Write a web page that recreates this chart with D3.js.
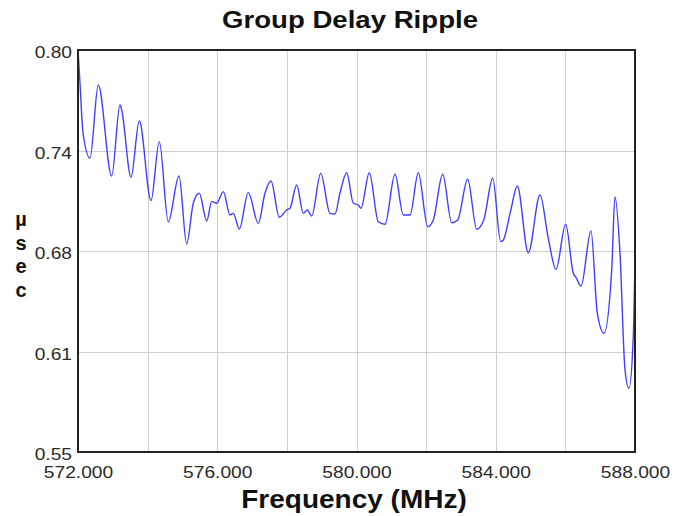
<!DOCTYPE html>
<html>
<head>
<meta charset="utf-8">
<script src="https://cdn.jsdelivr.net/npm/d3@7/dist/d3.min.js"></script>
<style>
  body { margin: 0; background: #fff; }
  text { font-family: "Liberation Sans", Arial, Helvetica, sans-serif; }
</style>
</head>
<body>
<svg width="682" height="516"></svg>
<script>
'use strict';

// frequency (MHz) and group delay (usec)
const freq = [
  572.000, 572.057, 572.144, 572.345, 572.583, 572.968, 573.206, 573.255, 573.522, 573.761,
  574.097, 574.335, 574.594, 574.901, 575.122, 575.312, 575.484, 575.697, 575.841, 575.984,
  576.174, 576.366, 576.461, 576.633, 576.892, 577.179, 577.372, 577.544, 577.782, 577.995,
  578.090, 578.282, 578.472, 578.587, 578.713, 578.972, 579.239, 579.382, 579.526, 579.718,
  579.908, 580.052, 580.129, 580.368, 580.626, 580.818, 581.106, 581.344, 581.537, 581.775,
  582.045, 582.206, 582.476, 582.734, 582.907, 583.194, 583.453, 583.662, 583.912, 584.142,
  584.217, 584.429, 584.619, 584.935, 585.271, 585.509, 585.731, 586.009, 586.228, 586.305,
  586.449, 586.736, 586.917, 587.109, 587.331, 587.425, 587.569, 587.713, 587.828, 587.951,
  588.000
];
const delay = [
  0.8000, 0.7795, 0.7484, 0.7328, 0.7782, 0.7216, 0.7658, 0.7627, 0.7210, 0.7558,
  0.7063, 0.7430, 0.6932, 0.7216, 0.6794, 0.7049, 0.7109, 0.6937, 0.7057, 0.7047,
  0.7119, 0.6974, 0.6984, 0.6887, 0.7113, 0.6922, 0.7111, 0.7185, 0.6960, 0.7005,
  0.7016, 0.7160, 0.6984, 0.7005, 0.6968, 0.7233, 0.6984, 0.6980, 0.7111, 0.7237,
  0.7047, 0.7036, 0.7016, 0.7237, 0.6932, 0.6916, 0.7227, 0.6974, 0.6974, 0.7237,
  0.6901, 0.6943, 0.7227, 0.6926, 0.6943, 0.7196, 0.6885, 0.6947, 0.7202, 0.6808,
  0.6818, 0.7001, 0.7154, 0.6739, 0.7098, 0.6829, 0.6636, 0.6916, 0.6611, 0.6586,
  0.6532, 0.6874, 0.6363, 0.6238, 0.6632, 0.7088, 0.6736, 0.6010, 0.5896, 0.6217,
  0.6706
];

const xGrid = [572, 574, 576, 578, 580, 582, 584, 586, 588];
const xTicks = [572, 576, 580, 584, 588];
const yTicks = [0.55, 0.6125, 0.675, 0.7375, 0.80];
const yTickLabels = ["0.55", "0.61", "0.68", "0.74", "0.80"];
const yLabel = ["\u00b5", "s", "e", "c"];

const svg = d3.select("svg");
const width = +svg.attr("width");
const height = +svg.attr("height");
const margin = {top: 50, right: 47, bottom: 64, left: 78};
const stretchX = 1.2;

const x = d3.scaleLinear()
    .domain([572, 588])
    .range([margin.left, width - margin.right]);

const y = d3.scaleLinear()
    .domain([0.55, 0.80])
    .range([height - margin.bottom, margin.top]);

// grid
svg.append("g")
    .attr("stroke", "#cfcfcf")
    .attr("stroke-width", 1)
  .selectAll("line")
  .data(xGrid)
  .join("line")
    .attr("x1", d => Math.round(x(d)) + 0.5)
    .attr("x2", d => Math.round(x(d)) + 0.5)
    .attr("y1", y(0.80))
    .attr("y2", y(0.55));

svg.append("g")
    .attr("stroke", "#cfcfcf")
    .attr("stroke-width", 1)
  .selectAll("line")
  .data(yTicks)
  .join("line")
    .attr("x1", x(572))
    .attr("x2", x(588))
    .attr("y1", d => Math.round(y(d)) + 0.5)
    .attr("y2", d => Math.round(y(d)) + 0.5);

// trace
const line = d3.line()
    .x((d, i) => x(freq[i]))
    .y(d => y(d))
    .curve(d3.curveMonotoneX);

svg.append("path")
    .datum(delay)
    .attr("fill", "none")
    .attr("stroke", "#3f3fff")
    .attr("stroke-width", 1.4)
    .attr("stroke-linejoin", "round")
    .attr("d", line);

// frame
svg.append("rect")
    .attr("x", x(572))
    .attr("y", y(0.80))
    .attr("width", x(588) - x(572))
    .attr("height", y(0.55) - y(0.80))
    .attr("fill", "none")
    .attr("stroke", "#222")
    .attr("stroke-width", 2);

// tick labels through the axis generators
const xAxis = svg.append("g")
    .attr("transform", `translate(0,${y(0.55)})`)
    .call(d3.axisBottom(x).tickValues(xTicks).tickSize(0).tickPadding(0)
      .tickFormat(d3.format(".3f")));
xAxis.select(".domain").remove();
xAxis.selectAll("text")
    .attr("y", null).attr("dy", null)
    .attr("transform", `translate(0,26) scale(${stretchX},1)`)
    .attr("font-size", 16)
    .attr("font-family", null)
    .attr("fill", "#2a2a2a");

const yAxis = svg.append("g")
    .attr("transform", `translate(${x(572)},0)`)
    .call(d3.axisLeft(y).tickValues(yTicks).tickSize(0).tickPadding(0)
      .tickFormat((d, i) => yTickLabels[i]));
yAxis.select(".domain").remove();
yAxis.selectAll("text")
    .attr("x", null).attr("dy", null)
    .attr("transform", `translate(-6,7.5) scale(${stretchX},1)`)
    .attr("font-size", 16)
    .attr("font-family", null)
    .attr("fill", "#2a2a2a");

// title and axis titles
svg.append("text")
    .attr("transform", `translate(350,28) scale(${stretchX},1)`)
    .attr("text-anchor", "middle")
    .attr("font-size", 23)
    .attr("font-weight", "bold")
    .attr("fill", "#111")
    .text("Group Delay Ripple");

svg.append("text")
    .attr("transform", `translate(354,508) scale(1.12,1)`)
    .attr("text-anchor", "middle")
    .attr("font-size", 25)
    .attr("font-weight", "bold")
    .attr("fill", "#111")
    .text("Frequency (MHz)");

svg.append("g")
  .selectAll("text")
  .data(yLabel)
  .join("text")
    .attr("x", 21)
    .attr("y", (d, i) => 226 + i * 23.5)
    .attr("text-anchor", "middle")
    .attr("font-size", 20)
    .attr("font-weight", "bold")
    .attr("fill", "#111")
    .text(d => d);
</script>
</body>
</html>
